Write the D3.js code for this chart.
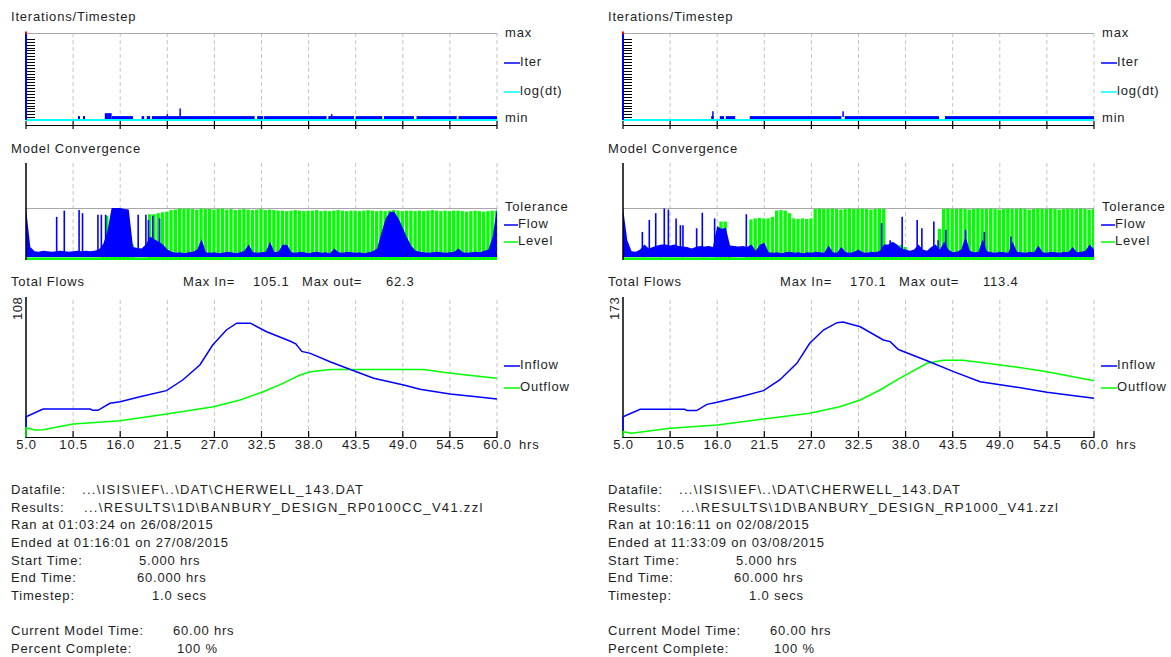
<!DOCTYPE html>
<html><head><meta charset="utf-8">
<script src="https://cdn.jsdelivr.net/npm/d3@7"></script>
<style>
body{margin:0;background:#fff}
svg text{font-family:"Liberation Sans",Arial,sans-serif;font-size:13px;fill:#1e1e1e;letter-spacing:0.8px}
svg text.path{letter-spacing:1.3px}
</style>
</head><body>
<svg id="c" width="1171" height="657"></svg>
<script>
// ---------------- DATA ----------------
const xTicks = [5, 10.5, 16, 21.5, 27, 32.5, 38, 43.5, 49, 54.5, 60];
const runNames = ["RP0100CC", "RP1000"];
const maxInValues = ["105.1", "170.1"];
const maxOutValues = ["62.3", "113.4"];
const flowAxisMax = [108, 173];

// Total flows (time hrs, m3/s)
const inflowL = [[5,9.5],[5,18.7],[7,25.8],[12.5,25.8],[12.8,24.6],[13.4,24.6],[14.8,31.1],[16,32.6],[18.3,37.2],[21.4,42.8],[23.3,52.6],[25.3,66.5],[26.8,84.9],[28.4,98.8],[29.6,105.1],[31.2,105.1],[33.1,97.2],[35.8,88.6],[36.5,86],[37.2,79],[38.2,77.2],[40.5,69.5],[42.8,62.5],[45.6,54.2],[49.1,48],[51,44],[54.5,39.7],[57.6,37.2],[60,35.1]];
const outflowL = [[5,0],[5,8.6],[6,6.5],[7,6.8],[10.5,12],[16,15.1],[21.4,21.2],[26.9,28],[30,34.2],[32.7,41.8],[35,49.5],[37,57.2],[38.2,60.3],[40.5,62.3],[51.4,62.3],[53.7,59.7],[56.4,57.2],[60,54.2]];
const inflowR = [[5,10],[5,30],[7,41],[12.2,41],[12.5,39],[13.6,39],[14.8,48.3],[16,51.3],[18.7,59.6],[21.4,68.5],[23.3,84.3],[25.3,109],[26.8,138.5],[28.4,158.2],[30,169],[30.7,170.1],[32.7,163],[35.4,143.4],[36.2,141],[37.1,130],[37.3,128.6],[40.5,112.8],[43.6,96.6],[46.7,81.8],[50.6,74.4],[54.5,66],[60,57.2]];
const outflowR = [[5,0],[5,7.9],[6,5.4],[10.5,12.8],[16,17.7],[21.4,26.6],[26.8,35],[30.3,44.8],[32.7,54.7],[35,69.5],[37.3,86.8],[40.5,109],[42.4,113.4],[44.7,113.4],[47.5,109],[50.6,104],[54.5,96.6],[60,83.3]];

// Model convergence, sampled every 0.5 hr from 5 to 60 (fraction of tolerance)
const levelL = [
 0.04,0.04,0.04,0.04,0.04,0.04,0.04,0.04,0.04,0.04,0.04,0.04,0.04,0.04,0.04,0.04,0.04,0.04,
 0.3,0.85,0.5,0.55,0.6,0.5,0.45,0.3,0.04,0.04,0.04,0.88,0.88,0.9,0.92,0.93,0.96,
 0.97,0.99,0.98,0.99,0.98,0.97,0.99,0.98,0.98,0.97,0.98,0.99,0.97,0.98,0.96,0.97,0.98,0.97,0.96,0.97,0.98,0.96,0.97,0.96,0.95,
 0.95,0.94,0.95,0.96,0.95,0.94,0.95,0.95,0.96,0.94,
 0.95,0.94,0.95,0.96,0.95,0.94,0.95,0.95,0.94,0.95,
 0.96,0.95,0.94,0.95,0.94,0.95,0.96,0.95,0.94,0.95,
 0.95,0.94,0.95,0.94,0.95,0.96,0.95,0.94,0.95,0.94,
 0.95,0.95,0.94,0.93,0.94,0.95,0.94,0.93,0.94,0.95,
 0.95];
const flowL = [
 1.0,0.25,
 0.17,0.16,0.18,0.17,0.16,0.17,0.18,0.17,0.16,0.17,0.18,0.17,0.18,0.17,0.18,0.2,
 0.3,0.55,1.0,1.0,1.0,0.98,0.97,0.25,0.23,0.22,0.3,0.45,0.4,0.35,0.3,0.2,
 0.16,0.14,0.15,0.13,0.15,0.16,0.2,0.4,0.15,0.14,
 0.15,0.13,0.14,0.16,0.15,0.13,0.15,0.18,0.3,0.15,
 0.14,0.15,0.16,0.35,0.15,0.17,0.3,0.29,0.15,0.14,
 0.16,0.15,0.13,0.15,0.16,0.14,0.15,0.13,0.22,0.15,
 0.14,0.16,0.15,0.14,0.15,0.13,0.15,0.17,
 0.22,0.52,0.8,0.93,0.93,0.8,0.62,0.43,0.27,0.18,
 0.16,0.15,0.14,0.15,0.16,0.15,0.14,0.15,0.16,0.22,0.15,0.14,0.15,0.16,0.15,0.18,0.2,
 0.45,1.0];
const spikeTL = [8.58,9.47,11.2,11.6,13.4,13.8,14.3,18.1,19.0,19.3,19.8,20.6];
const spikeVL = [0.83,0.95,0.96,0.9,0.87,0.87,0.87,0.87,0.87,0.77,0.85,0.8];

const levelR = [
 0.25,
 0.04,0.04,0.04,0.04,0.05,0.04,0.04,0.04,0.05,0.04,0.04,0.04,0.04,0.05,0.04,0.04,0.04,0.04,0.05,0.04,0.04,
 0.5,0.74,0.74,0.1,0.04,0.04,0.04,0.2,
 0.78,0.8,0.81,0.8,0.8,0.83,0.95,0.96,0.95,0.9,0.8,0.79,0.8,0.79,0.8,
 0.98,0.99,0.98,0.98,0.99,0.98,0.97,0.98,0.99,0.98,0.98,0.99,0.98,0.97,0.98,0.99,0.98,
 0.1,0.29,0.29,0.29,0.25,0.1,0.08,0.15,0.08,0.06,0.06,0.08,
 0.6,
 0.98,0.99,0.98,0.98,0.99,0.98,0.97,0.98,0.99,0.98,
 0.98,0.99,0.98,0.97,0.98,0.99,0.98,0.98,0.99,0.98,
 0.97,0.98,0.99,0.98,0.98,0.99,0.98,0.97,0.98,0.99,
 0.98,0.98,0.99,0.98,0.97,0.98];
const flowR = [
 1.0,0.38,
 0.17,0.16,0.2,0.3,0.22,0.25,0.28,0.3,0.3,0.28,0.3,0.27,0.26,0.25,0.22,0.25,0.27,0.26,0.27,0.25,
 0.65,0.6,0.62,0.28,0.27,0.26,0.27,0.25,
 0.3,0.18,0.3,0.33,
 0.15,0.14,0.15,0.13,0.15,0.16,0.14,0.15,0.13,0.15,
 0.14,0.16,0.15,0.14,0.28,0.15,0.14,0.25,0.15,0.14,
 0.16,0.2,0.15,0.14,0.16,0.15,0.18,
 0.3,0.3,0.35,0.3,0.22,0.2,0.18,0.2,0.3,0.2,0.18,0.25,0.3,0.2,
 0.35,0.2,0.15,0.16,0.2,0.45,0.18,0.15,0.16,0.4,
 0.17,0.15,0.14,0.16,0.15,0.14,0.35,0.16,0.15,0.14,
 0.16,0.15,0.28,0.15,0.14,0.16,0.15,0.14,0.16,0.15,
 0.25,0.15,0.16,0.18,0.3,0.2];
const spikeTR = [7.26,8.07,8.82,9.82,10.3,11.2,11.7,12.0,13.6,14.26,15.7,19.4,35.2,36.2,37.6,39.35,39.9,41.3,41.8,42.7,45,47.2,50.3];
const spikeVR = [0.54,0.77,0.9,0.99,0.97,0.8,0.67,0.67,0.61,0.91,0.8,0.88,0.71,0.38,0.83,0.77,0.61,0.74,0.38,0.58,0.58,0.54,0.45];

// Iterations per timestep: segments [start hr, end hr, iterations]
const iterSegL = [[11.07,11.3,1],[11.66,11.9,1],[14.2,15.0,2],[15.0,17.5,1],[18.5,18.8,1],[19.1,19.5,1],[19.7,31.7,1],[32.0,32.7,1],[32.8,40.1,1],[40.3,43.3,1],[43.5,46.6,1],[46.8,50.3,1],[50.6,55.3,1],[55.5,60,1]];
const iterSpikeL = [[21.5,2],[23.0,4],[40.7,2]];
const iterSegR = [[15.3,15.6,1],[16.3,16.8,1],[17.0,18.1,1],[19.8,30.5,1],[30.9,41.9,1],[42.6,60,1]];
const iterSpikeR = [[15.5,3],[30.7,3]];

const infoLabels = ["Datafile:", "Results:", "", "", "Start Time:", "End Time:", "Timestep:", "Current Model Time:", "Percent Complete:"];
const infoValuesL = ["...\\ISIS\\IEF\\..\\DAT\\CHERWELL_143.DAT", "...\\RESULTS\\1D\\BANBURY_DESIGN_RP0100CC_V41.zzl", "Ran at 01:03:24 on 26/08/2015", "Ended at 01:16:01 on 27/08/2015", "5.000 hrs", "60.000 hrs", "1.0 secs", "60.00 hrs", "100 %"];
const infoValuesR = ["...\\ISIS\\IEF\\..\\DAT\\CHERWELL_143.DAT", "...\\RESULTS\\1D\\BANBURY_DESIGN_RP1000_V41.zzl", "Ran at 10:16:11 on 02/08/2015", "Ended at 11:33:09 on 03/08/2015", "5.000 hrs", "60.000 hrs", "1.0 secs", "60.00 hrs", "100 %"];

// ---------------- DRAW ----------------
const BLUE = "#0000ff", GREEN = "#00ff00", CYAN = "#00ffff", GRID = "#c4c4c4", GREY = "#a8a8a8";
const svg = d3.select("#c");
const runs = [
  {off:0, inflow:inflowL, outflow:outflowL, level:levelL, flow:flowL, spT:spikeTL, spV:spikeVL, itSeg:iterSegL, itSp:iterSpikeL, maxIn:maxInValues[0], maxOut:maxOutValues[0], yMax:flowAxisMax[0], info:infoValuesL},
  {off:597, inflow:inflowR, outflow:outflowR, level:levelR, flow:flowR, spT:spikeTR, spV:spikeVR, itSeg:iterSegR, itSp:iterSpikeR, maxIn:maxInValues[1], maxOut:maxOutValues[1], yMax:flowAxisMax[1], info:infoValuesR}
];
const x = d3.scaleLinear().domain([5, 60]).range([26, 497]);
const yIt = d3.scaleLinear().domain([0, 30]).range([120, 33]);
const yC = d3.scaleLinear().domain([0, 97/52]).range([260, 163]);
const sampleT = i => 5 + 0.5 * i;

runs.forEach(r => {
  const g = svg.append("g").attr("transform", `translate(${r.off},0)`);
  const yF = d3.scaleLinear().domain([0, r.yMax]).range([437, 320]);
  const txt = (s, px, py, extra) => { const t = g.append("text").attr("x", px).attr("y", py).text(s); if (extra) extra(t); return t; };
  const grid = (y0, y1) => g.append("g").selectAll("line").data(xTicks.slice(1)).join("line")
      .attr("x1", d => x(d)).attr("x2", d => x(d)).attr("y1", y0).attr("y2", y1)
      .attr("stroke", GRID).attr("stroke-dasharray", "4,3");

  // ---- Iterations / Timestep ----
  txt("Iterations/Timestep", 11, 21);
  grid(33, 120);
  g.append("line").attr("x1", 26).attr("x2", 497).attr("y1", 33.5).attr("y2", 33.5).attr("stroke", GREY);
  g.append("g").selectAll("line").data(d3.range(1, 29)).join("line")
    .attr("x1", 27).attr("x2", 35).attr("y1", d => Math.round(yIt(d)) + 0.5).attr("y2", d => Math.round(yIt(d)) + 0.5)
    .attr("stroke", "#000");
  g.append("line").attr("x1", 26).attr("x2", 497).attr("y1", 125.5).attr("y2", 125.5).attr("stroke", "#000");
  g.append("g").selectAll("line").data(xTicks).join("line")
    .attr("x1", d => x(d)).attr("x2", d => x(d)).attr("y1", 121).attr("y2", 129).attr("stroke", "#000").attr("stroke-width", 1.2);
  g.append("line").attr("x1", 26).attr("x2", 497).attr("y1", 120).attr("y2", 120).attr("stroke", CYAN).attr("stroke-width", 2);
  g.append("g").selectAll("rect").data(r.itSeg).join("rect")
    .attr("x", d => x(d[0])).attr("width", d => Math.max(1.5, x(d[1]) - x(d[0])))
    .attr("y", d => yIt(d[2]) - 1).attr("height", d => yIt(0) - yIt(d[2]))
    .attr("fill", BLUE);
  g.append("g").selectAll("line").data(r.itSp).join("line")
    .attr("x1", d => x(d[0])).attr("x2", d => x(d[0])).attr("y1", yIt(1)).attr("y2", d => yIt(d[1]))
    .attr("stroke", BLUE).attr("stroke-width", 1.5);
  g.append("line").attr("x1", 26).attr("x2", 26).attr("y1", 33).attr("y2", 120).attr("stroke", BLUE).attr("stroke-width", 2);
  g.append("line").attr("x1", 26).attr("x2", 26).attr("y1", 31.5).attr("y2", 34).attr("stroke", "#ff0000").attr("stroke-width", 2);
  txt("max", 505, 34, t => t.attr("dominant-baseline", "middle"));
  g.append("line").attr("x1", 504).attr("x2", 520).attr("y1", 63).attr("y2", 63).attr("stroke", BLUE).attr("stroke-width", 1.5);
  txt("Iter", 520, 63, t => t.attr("dominant-baseline", "middle"));
  g.append("line").attr("x1", 504).attr("x2", 520).attr("y1", 92).attr("y2", 92).attr("stroke", CYAN).attr("stroke-width", 1.5);
  txt("log(dt)", 520, 92, t => t.attr("dominant-baseline", "middle"));
  txt("min", 505, 119, t => t.attr("dominant-baseline", "middle"));

  // ---- Model Convergence ----
  txt("Model Convergence", 11, 153);
  grid(163, 260);
  g.append("line").attr("x1", 26).attr("x2", 497).attr("y1", yC(1) + 0.5).attr("y2", yC(1) + 0.5).attr("stroke", GREY);
  const step = x(5.5) - x(5);
  g.append("g").selectAll("rect").data(r.level).join("rect")
    .attr("x", (d, i) => Math.max(26, x(sampleT(i)) - step / 2))
    .attr("width", (d, i) => Math.min(497, x(sampleT(i)) + step / 2 - 1) - Math.max(26, x(sampleT(i)) - step / 2))
    .attr("y", d => yC(d)).attr("height", d => yC(0) - yC(d))
    .attr("fill", GREEN);
  g.append("rect").attr("x", 26).attr("width", 471).attr("y", yC(0.05)).attr("height", yC(0) - yC(0.05)).attr("fill", GREEN);
  const area = d3.area().x((d, i) => x(sampleT(i))).y0(yC(0.06)).y1(d => yC(d));
  g.append("path").datum(r.flow).attr("d", area).attr("fill", BLUE);
  g.append("g").selectAll("line").data(r.spT).join("line")
    .attr("x1", d => x(d)).attr("x2", d => x(d)).attr("y1", yC(0.1)).attr("y2", (d, i) => yC(r.spV[i]))
    .attr("stroke", BLUE).attr("stroke-width", 1.6);
  g.append("line").attr("x1", 26).attr("x2", 26).attr("y1", 163).attr("y2", 260).attr("stroke", "#000").attr("stroke-width", 1.5);
  txt("Tolerance", 505, 208, t => t.attr("dominant-baseline", "middle"));
  g.append("line").attr("x1", 504).attr("x2", 518).attr("y1", 225).attr("y2", 225).attr("stroke", BLUE).attr("stroke-width", 1.5);
  txt("Flow", 518, 225, t => t.attr("dominant-baseline", "middle"));
  g.append("line").attr("x1", 504).attr("x2", 518).attr("y1", 242).attr("y2", 242).attr("stroke", GREEN).attr("stroke-width", 1.5);
  txt("Level", 518, 242, t => t.attr("dominant-baseline", "middle"));

  // ---- Total Flows ----
  txt("Total Flows", 11, 286);
  txt("Max In=", 183, 286);
  txt(r.maxIn, 253, 286);
  txt("Max out=", 302, 286);
  txt(r.maxOut, 386, 286);
  grid(300, 437);
  const xAxis = d3.axisBottom(x).tickValues(xTicks).tickSize(0).tickFormat(d3.format(".1f"));
  const ax = g.append("g").attr("transform", "translate(0,437)").call(xAxis);
  ax.select(".domain").remove();
  ax.selectAll("text").attr("dy", 0).attr("y", 12).attr("font-size", 13).attr("font-family", '"Liberation Sans",Arial,sans-serif').attr("fill", "#1e1e1e");
  g.append("line").attr("x1", 26).attr("x2", 497).attr("y1", 437.5).attr("y2", 437.5).attr("stroke", "#000");
  g.append("g").selectAll("line").data(xTicks).join("line")
    .attr("x1", d => x(d)).attr("x2", d => x(d)).attr("y1", 431).attr("y2", 438).attr("stroke", "#000").attr("stroke-width", 1.2);
  g.append("line").attr("x1", 26).attr("x2", 26).attr("y1", 297).attr("y2", 438).attr("stroke", "#000").attr("stroke-width", 1.5);
  txt("hrs", 519, 449);
  txt(String(r.yMax), 0, 0, t => t.attr("transform", `translate(22,${yF(r.yMax)}) rotate(-90)`).attr("font-size", 11).style("letter-spacing", "0.5px"));
  const line = d3.line().x(d => x(d[0])).y(d => yF(d[1]));
  g.append("path").datum(r.outflow).attr("d", line).attr("fill", "none").attr("stroke", GREEN).attr("stroke-width", 1.5);
  g.append("path").datum(r.inflow).attr("d", line).attr("fill", "none").attr("stroke", BLUE).attr("stroke-width", 1.5);
  g.append("line").attr("x1", 504).attr("x2", 520).attr("y1", 366).attr("y2", 366).attr("stroke", BLUE).attr("stroke-width", 1.5);
  txt("Inflow", 520, 366, t => t.attr("dominant-baseline", "middle"));
  g.append("line").attr("x1", 504).attr("x2", 520).attr("y1", 388).attr("y2", 388).attr("stroke", GREEN).attr("stroke-width", 1.5);
  txt("Outflow", 520, 388, t => t.attr("dominant-baseline", "middle"));

  // ---- Info text ----
  const baselines = [494, 511.5, 529, 547, 565, 582, 600, 635, 652.5];
  const valueX = [82, 84, 11, 11, 139, 137, 152, 173, 177];
  infoLabels.forEach((lab, i) => {
    if (lab) txt(lab, 11, baselines[i]);
    const t = txt(r.info[i], valueX[i], baselines[i]);
    if (i < 2) t.attr("class", "path");
  });
});
console.log(levelL.length, flowL.length, levelR.length, flowR.length);
</script>
</body></html>
